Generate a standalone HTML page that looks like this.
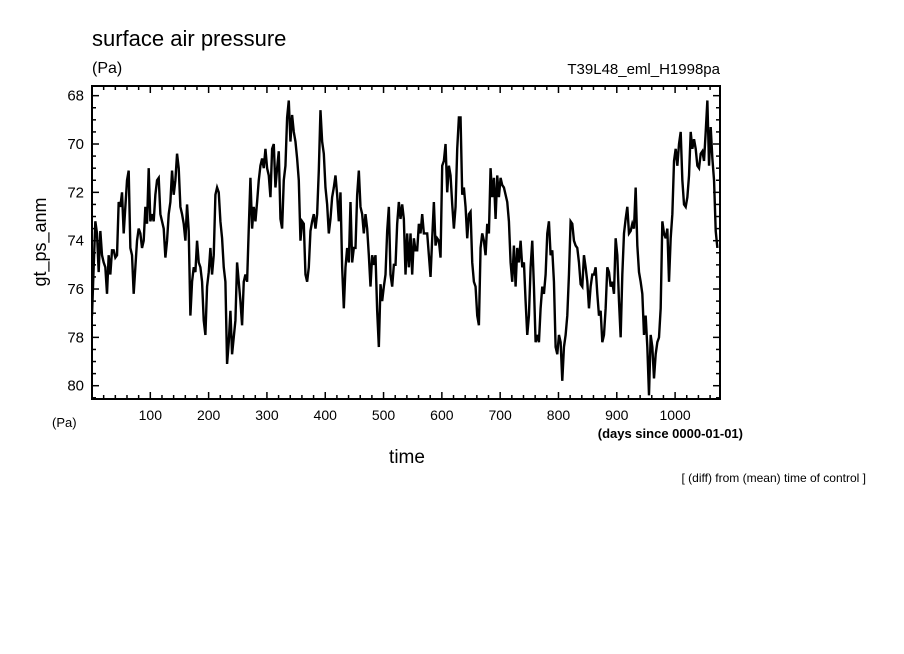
<!DOCTYPE html>
<html><head><meta charset="utf-8"><style>
html,body{margin:0;padding:0;background:#fff;}
svg{display:block;font-family:"Liberation Sans","DejaVu Sans",sans-serif;}
</style></head><body>
<svg id="chart" width="904" height="654" viewBox="0 0 904 654">
<rect width="904" height="654" fill="#fff"/>
<text x="92" y="46" font-size="22">surface air pressure</text>
<text x="92" y="73" font-size="16">(Pa)</text>
<text x="720" y="74" font-size="15" text-anchor="end">T39L48_eml_H1998pa</text>
<text x="0" y="0" font-size="18" text-anchor="middle" transform="translate(46,242) rotate(-90)">gt_ps_anm</text>
<text x="52" y="427" font-size="13">(Pa)</text>
<text x="407" y="463" font-size="19" text-anchor="middle">time</text>
<text x="743" y="438" font-size="13" font-weight="bold" text-anchor="end">(days since 0000-01-01)</text>
<text x="866" y="482" font-size="12" text-anchor="end">[ (diff) from (mean) time of control ]</text>
<g id="ticks"></g>
<g id="series"></g>
<rect x="92" y="86" width="628" height="313" fill="none" stroke="#000" stroke-width="2"/>
</svg>
<script>
const yTicks = [68, 70, 72, 74, 76, 78, 80];
const xTicks = [100, 200, 300, 400, 500, 600, 700, 800, 900, 1000];
const dayStep = 2.86;
const values = [
77.1,75.1,73.2,73.7,75.3,73.6,74.6,74.9,75.1,76.2,74.6,75.4,74.4,74.4,74.7,74.6,72.4,72.6,72.0,73.7,72.6,71.5,71.1,74.3,74.6,76.2,75.1,74.0,73.5,73.7,74.3,74.0,72.6,73.3,71.0,73.2,72.9,73.2,72.1,71.5,71.4,72.9,73.2,73.5,74.7,74.0,72.9,72.4,71.1,72.1,71.5,70.4,71.0,72.6,72.9,73.3,74.0,72.5,73.6,77.1,75.7,75.1,75.3,74.0,74.9,75.1,75.7,77.3,77.9,75.9,75.3,74.3,75.4,74.6,72.1,71.8,72.0,73.2,73.9,75.1,75.7,79.1,78.2,76.9,78.7,78.0,77.3,74.9,75.7,76.5,77.5,75.7,75.4,75.7,73.5,71.4,73.5,72.6,73.2,72.4,71.5,70.9,70.6,71.0,70.2,71.0,71.3,72.2,70.2,70.0,71.8,71.0,70.3,73.1,73.5,71.5,70.9,68.9,68.2,69.9,68.8,69.5,69.9,70.6,71.5,74.0,73.2,73.3,75.4,
75.7,75.1,73.6,73.2,72.9,73.5,72.9,71.1,68.6,69.9,70.4,71.8,72.5,73.7,73.1,72.2,71.8,71.3,72.1,73.2,72.0,75.1,76.8,75.1,74.3,74.9,72.4,74.9,74.3,74.3,72.1,71.1,72.6,72.9,73.7,72.9,73.5,74.6,75.9,74.6,75.0,74.6,76.9,78.4,75.8,76.5,75.9,75.4,73.6,72.6,75.4,75.9,75.0,75.0,73.3,72.4,73.1,72.5,73.1,75.4,73.7,75.1,73.7,75.4,73.9,74.4,74.4,73.3,73.7,72.9,73.7,73.7,73.7,74.6,75.5,73.9,72.4,74.2,73.9,74.0,74.7,70.9,70.7,70.0,72.0,70.9,71.3,72.5,73.5,72.6,70.2,68.9,68.9,72.1,71.8,72.6,73.9,72.9,72.8,74.9,75.7,75.9,77.1,77.5,74.3,73.7,74.0,74.6,73.3,73.7,71.0,72.2,71.4,73.1,71.3,72.2,71.4,71.7,71.8,72.1,72.4,73.2,74.9,75.7,74.2,75.9,74.3,
74.9,74.0,75.1,74.9,76.5,77.9,77.1,75.1,74.0,75.9,78.2,77.9,78.2,76.8,75.9,76.2,75.4,73.7,73.2,74.6,74.4,75.7,78.4,78.7,77.9,78.2,79.8,78.4,77.9,77.1,75.4,73.2,73.3,74.0,74.2,74.3,74.9,75.8,75.9,74.6,75.1,75.7,76.8,75.9,75.4,75.4,75.1,76.2,77.1,76.9,78.2,77.9,76.8,75.1,75.3,75.9,75.7,76.2,73.9,74.6,76.5,78.0,75.4,73.7,73.1,72.6,73.7,73.6,73.3,73.5,71.8,74.2,75.3,75.7,76.2,77.9,77.1,78.4,80.4,77.9,78.4,79.7,78.7,78.2,78.0,76.8,73.2,73.7,73.9,73.5,75.7,73.9,72.9,70.7,70.2,70.9,70.0,69.5,71.5,72.5,72.6,72.2,71.3,69.5,70.2,69.8,70.2,70.9,71.0,70.4,70.3,70.7,69.5,68.2,70.9,69.3,70.6,71.5,73.6,74.3
];
const NS = "http://www.w3.org/2000/svg";
const L = 92, R = 720, T = 86, B = 399;
const xMin = 0, xMax = 1077, yTop = 67.6, yBot = 80.55;
function xs(d){ return L + (d - xMin) / (xMax - xMin) * (R - L); }
function ys(v){ return T + (v - yTop) / (yBot - yTop) * (B - T); }
const tg = document.getElementById('ticks');
function line(x1,y1,x2,y2,w){
  const l = document.createElementNS(NS,'line');
  l.setAttribute('x1',x1);l.setAttribute('y1',y1);l.setAttribute('x2',x2);l.setAttribute('y2',y2);
  l.setAttribute('stroke','#000');l.setAttribute('stroke-width',w);
  
  
  tg.appendChild(l);
}
for (let v = 68; v <= 80.5; v += 0.5) {
  const y = ys(v);
  const major = Math.abs(v/2 - Math.round(v/2)) < 1e-6;
  const len = major ? 7 : 4;
  line(L, y, L + len, y, 1.5);
  line(R, y, R - len, y, 1.5);
}
yTicks.forEach(v => {
  const t = document.createElementNS(NS,'text');
  t.setAttribute('x', 84); t.setAttribute('y', ys(v) + 5);
  t.setAttribute('font-size', '15'); t.setAttribute('text-anchor', 'end');
  
  
  t.textContent = v;
  tg.appendChild(t);
});
for (let d = 20; d <= 1070; d += 20) {
  const x = xs(d);
  const major = d % 100 === 0;
  const len = major ? 7 : 4;
  line(x, B, x, B - len, 1.5);
  line(x, T, x, T + len, 1.5);
}
xTicks.forEach(d => {
  const t = document.createElementNS(NS,'text');
  t.setAttribute('x', xs(d)); t.setAttribute('y', 420);
  t.setAttribute('font-size', '14'); t.setAttribute('text-anchor', 'middle');
  
  
  t.textContent = d;
  tg.appendChild(t);
});
const sg = document.getElementById('series');
const cp = document.createElementNS(NS,'clipPath'); cp.setAttribute('id','clip');
const cr = document.createElementNS(NS,'rect');
cr.setAttribute('x',L);cr.setAttribute('y',T);cr.setAttribute('width',R-L);cr.setAttribute('height',B-T);
cp.appendChild(cr); sg.appendChild(cp);
const p = document.createElementNS(NS,'path');
let dstr = '';
values.forEach((v,i) => { dstr += (i ? 'L' : 'M') + xs(i*dayStep).toFixed(2) + ',' + ys(v).toFixed(2); });
p.setAttribute('d', dstr);
p.setAttribute('fill','none'); p.setAttribute('stroke','#000'); p.setAttribute('stroke-width','2.4');
p.setAttribute('stroke-linejoin','miter'); p.setAttribute('clip-path','url(#clip)');


sg.appendChild(p);
</script>
</body></html>
